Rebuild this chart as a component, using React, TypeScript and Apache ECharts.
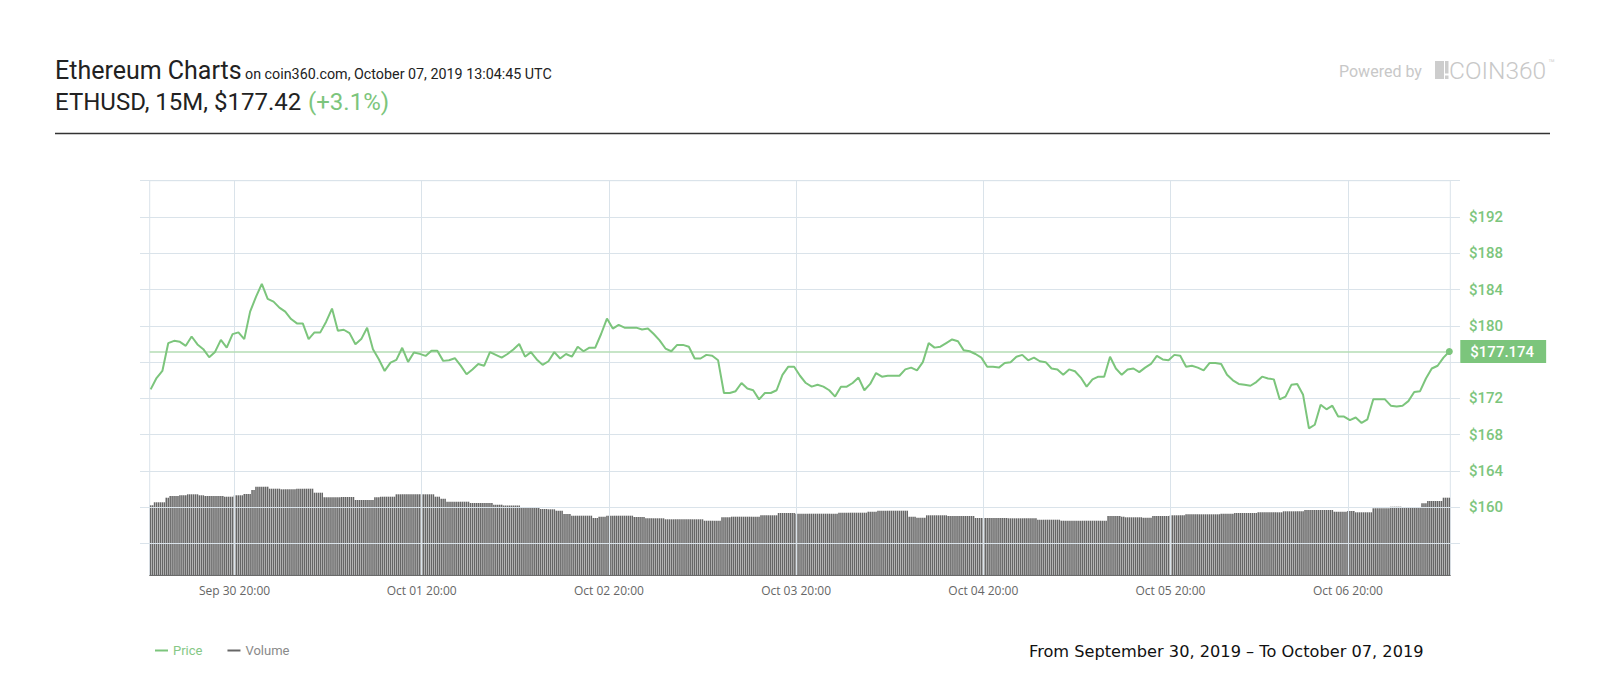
import React, { useEffect, useRef } from "react";
import * as echarts from "echarts";

// ---- x axis: 15-minute bars, labelled at these bar indices ----
const tickIndex = [43, 139, 235, 331, 427, 523, 614];
const tickLabels = [
  "Sep 30 20:00",
  "Oct 01 20:00",
  "Oct 02 20:00",
  "Oct 03 20:00",
  "Oct 04 20:00",
  "Oct 05 20:00",
  "Oct 06 20:00",
];

// ---- price (USD), one reading every `priceStep` bars ----
const priceStep = 3;
const priceSamples = [
  173.0, 174.25, 175.03, 178.09, 178.35, 178.24, 177.8, 178.83, 177.95, 177.43,
  176.54, 177.13, 178.46, 177.61, 179.09, 179.28, 178.54, 181.57, 183.19, 184.63,
  182.97, 182.67, 182.01, 181.57, 180.75, 180.27, 180.27, 178.54, 179.28, 179.28,
  180.46, 181.9, 179.46, 179.57, 179.2, 177.98, 178.54, 179.79, 177.43, 176.32,
  175.03, 175.95, 176.25, 177.58, 176.03, 177.06, 176.91, 176.69, 177.25, 177.25,
  176.14, 176.21, 176.43, 175.62, 174.66,
  175.2, 175.8, 175.6, 177.1, 176.8, 176.5, 176.9, 177.4, 178.0, 176.6,
  177.1, 176.3, 175.7, 176.1, 177.1, 176.4, 176.9, 176.6, 177.7, 177.2,
  177.6, 177.6, 179.1, 180.8, 179.7, 180.1, 179.8, 179.8, 179.8, 179.6,
  179.7, 179.1, 178.4, 177.5, 177.2, 177.9, 177.9, 177.7, 176.4, 176.4,
  176.8, 176.7, 176.2, 172.6, 172.6, 172.8, 173.7, 173.1, 172.9, 171.9,
  172.6, 172.6, 172.9, 174.6, 175.5, 175.5,
  174.5, 173.7, 173.3, 173.5, 173.3, 172.9, 172.2, 173.3, 173.3, 173.7,
  174.3, 172.9, 173.6, 174.8, 174.4, 174.5, 174.5, 174.5, 175.2, 175.4,
  175.1, 176.0, 178.1, 177.6, 177.7, 178.1, 178.5, 178.3, 177.3, 177.2,
  176.9, 176.5, 175.5, 175.5, 175.4, 175.9, 176.0, 176.6, 176.8, 176.2,
  176.5, 176.1, 176.0, 175.3, 175.2, 174.6, 175.2, 175.0, 174.3, 173.3,
  174.1, 174.4, 174.4, 176.6, 175.3,
  174.6, 175.2, 175.3, 174.9, 175.4, 175.8, 176.7, 176.3, 176.2, 176.8,
  176.7, 175.5, 175.6, 175.4, 175.1, 175.9, 175.9, 175.8, 174.6, 174.0,
  173.6, 173.5, 173.4, 173.8, 174.4, 174.2, 174.1, 171.9, 172.2, 173.5,
  173.6, 172.4, 168.7, 169.1, 171.3, 170.8, 171.2, 170.0, 170.0, 169.6,
  169.9, 169.3, 169.7, 171.9, 171.9, 171.9, 171.2, 171.1, 171.2, 171.7,
  172.7, 172.8, 174.2, 175.3, 175.6, 176.5, 177.174,
];
const lastPrice = 177.174;

// ---- volume (relative units), as runs of equal bars: [count, value] ----
const volumeRuns: [number, number][] = [
  [2, 69.7], [6, 72.7], [2, 77.3], [5, 79], [4, 79.7], [6, 80.7], [3, 79.7], [10, 79],
  [5, 78.3], [5, 79.7], [4, 81], [2, 85], [7, 88.3], [6, 86.3], [8, 85.7], [9, 86.3],
  [5, 82.3], [9, 77.7], [7, 78], [10, 75], [3, 77.7], [8, 78.3], [20, 80.7], [3, 78.3],
  [3, 76.3], [12, 73.3],
  [12, 72], [5, 70.3], [9, 69.5], [10, 67], [4, 66], [4, 65.7], [4, 64.3], [4, 61],
  [11, 59.3], [3, 57], [4, 58.3], [14, 59.3], [6, 58], [10, 56.7], [20, 55.7], [9, 54.3],
  [5, 57.7], [15, 58.3], [9, 59.7], [9, 62],
  [22, 61.3], [15, 62.3], [5, 63.3], [16, 64.3], [4, 58.3], [5, 57.3], [11, 59.7],
  [14, 59], [17, 57], [15, 56.7], [12, 55.3], [24, 54.3], [7, 59],
  [2, 58.3], [9, 57.7], [5, 57.3], [9, 59], [8, 59.7], [18, 60.7], [7, 61.3], [12, 62],
  [13, 62.7], [11, 63.7], [15, 65], [7, 63.3], [4, 64], [9, 62.7], [9, 66.7], [6, 68.3],
  [10, 68], [3, 71.7], [8, 74], [4, 77.3],
];

// ---- price axis ----
const priceAxisMin = 152;
const priceAxisMax = 196;
const priceAxisInterval = 4;
const labelledPrices = [160, 164, 168, 172, 180, 184, 188, 192];

const GREEN = "#7cc57c";
const GRID_COLOR = "#dae3ea";

export default function App() {
  const ref = useRef<HTMLDivElement>(null);

  useEffect(() => {
    document.body.style.margin = "0";
    const chart = echarts.init(ref.current!, null, { renderer: "svg" });

    const volume: number[] = [];
    volumeRuns.forEach(([n, v]) => {
      for (let j = 0; j < n; j++) volume.push(v);
    });
    const count = volume.length;
    const categories = volume.map((_, i) => String(i));
    const price: (number | null)[] = new Array(count).fill(null);
    priceSamples.forEach((v, k) => {
      price[k * priceStep] = v;
    });

    const lineCount = (priceAxisMax - priceAxisMin) / priceAxisInterval + 1;
    const splitColors = Array.from({ length: lineCount }, (_, i) =>
      i === 0 ? "rgba(0,0,0,0)" : GRID_COLOR
    );

    const top = 180.7;
    const plotBottom = 575;
    const pxPerUsd = 9.072;

    const option: any = {
      animation: false,
      backgroundColor: "#fff",
      grid: [
        {
          left: 140,
          right: 140,
          top,
          height: (priceAxisMax - priceAxisMin) * pxPerUsd,
        },
        {
          left: 149.7,
          width: 1300.6,
          top,
          height: plotBottom - top,
          show: true,
          borderColor: GRID_COLOR,
          borderWidth: 1,
        },
      ],
      xAxis: [
        { gridIndex: 0, type: "value", min: 0, max: 1, show: false },
        {
          gridIndex: 1,
          type: "category",
          data: categories,
          boundaryGap: true,
          axisLine: { show: true, lineStyle: { color: "#6a6a6a", width: 1 } },
          axisTick: { show: false },
          splitLine: { show: false },
          axisLabel: {
            interval: (index: number) => tickIndex.includes(index),
            formatter: (_v: string, index: number) => {
              const p = tickIndex.indexOf(index);
              return p >= 0 ? tickLabels[p] : "";
            },
            color: "#666",
            fontSize: 12,
            fontFamily: "Open Sans",
            margin: 9,
          },
        },
      ],
      yAxis: [
        {
          gridIndex: 0,
          type: "value",
          position: "right",
          min: priceAxisMin,
          max: priceAxisMax,
          interval: priceAxisInterval,
          z: 3,
          axisLine: { show: false },
          axisTick: { show: false },
          axisLabel: {
            margin: 9,
            color: GREEN,
            fontSize: 15,
            fontWeight: 500,
            fontFamily: "Roboto",
            formatter: (v: number) => (labelledPrices.includes(v) ? "$" + v : ""),
          },
          splitLine: { show: true, lineStyle: { color: splitColors, width: 1 } },
        },
        {
          gridIndex: 1,
          type: "value",
          min: 160 - (plotBottom - 507.3) / pxPerUsd,
          max: priceAxisMax,
          show: false,
        },
        {
          gridIndex: 1,
          type: "value",
          min: 0,
          max: plotBottom - top,
          show: false,
        },
      ],
      legend: {
        left: 150,
        top: 639,
        icon: "rect",
        itemWidth: 13,
        itemHeight: 2,
        itemGap: 25,
        selectedMode: false,
        textStyle: { fontSize: 13, fontFamily: "Roboto" },
        data: [
          { name: "Price", textStyle: { color: "#86c886" } },
          { name: "Volume", textStyle: { color: "#8a8a8a" } },
        ],
      },
      series: [
        {
          name: "Volume",
          type: "bar",
          xAxisIndex: 1,
          yAxisIndex: 2,
          data: volume,
          barCategoryGap: "22%",
          itemStyle: { color: "#666" },
          silent: true,
          z: 2,
          markLine: {
            silent: true,
            symbol: ["none", "none"],
            label: { show: false },
            lineStyle: { color: GRID_COLOR, width: 1, type: "solid" },
            data: tickIndex.map((i) => ({ xAxis: i })),
          },
        },
        {
          name: "Price",
          type: "line",
          xAxisIndex: 1,
          yAxisIndex: 1,
          data: price,
          connectNulls: true,
          showSymbol: false,
          silent: true,
          z: 5,
          lineStyle: { color: GREEN, width: 2 },
          itemStyle: { color: GREEN },
          markLine: {
            silent: true,
            symbol: ["none", "none"],
            lineStyle: { color: "#b4dcb4", width: 1.5, type: "solid" },
            label: {
              show: true,
              position: "end",
              distance: 10,
              formatter: "$" + lastPrice,
              color: "#fff",
              backgroundColor: GREEN,
              padding: [4, 12, 4, 10],
              fontSize: 15,
              lineHeight: 15,
              fontWeight: 500,
              fontFamily: "Roboto",
            },
            data: [{ yAxis: lastPrice }],
          },
          markPoint: {
            silent: true,
            symbol: "circle",
            symbolSize: 7,
            itemStyle: { color: GREEN },
            label: { show: false },
            data: [{ coord: [count - 1, lastPrice] }],
          },
        },
      ],
      graphic: [
        {
          type: "text",
          style: {
            text: "Ethereum Charts",
            x: 55,
            y: 70,
            font: "25px Roboto",
            fill: "#222",
            verticalAlign: "middle",
          },
        },
        {
          type: "text",
          style: {
            text: "on coin360.com, October 07, 2019 13:04:45 UTC",
            x: 245,
            y: 73.5,
            font: "14.3px Roboto",
            fill: "#222",
            verticalAlign: "middle",
          },
        },
        {
          type: "text",
          style: {
            text: "ETHUSD, 15M, $177.42",
            x: 55,
            y: 101.5,
            font: "24px Roboto",
            fill: "#222",
            verticalAlign: "middle",
          },
        },
        {
          type: "text",
          style: {
            text: "(+3.1%)",
            x: 308,
            y: 101.5,
            font: "24px Roboto",
            fill: GREEN,
            verticalAlign: "middle",
          },
        },
        {
          type: "text",
          style: {
            text: "Powered by",
            x: 1339,
            y: 71,
            font: "16px Roboto",
            fill: "#c8c8c8",
            verticalAlign: "middle",
          },
        },
        {
          type: "rect",
          shape: { x: 1435, y: 61, width: 9, height: 18 },
          style: { fill: "#cdcdcd" },
        },
        {
          type: "rect",
          shape: { x: 1445, y: 61, width: 3.5, height: 12.5 },
          style: { fill: "#cdcdcd" },
        },
        {
          type: "rect",
          shape: { x: 1445, y: 75.5, width: 3.5, height: 3.5 },
          style: { fill: "#cdcdcd" },
        },
        {
          type: "text",
          style: {
            text: "COIN360",
            x: 1449,
            y: 70.5,
            font: "300 24.5px Roboto",
            fill: "#c8c8c8",
            verticalAlign: "middle",
          },
        },
        {
          type: "text",
          style: {
            text: "™",
            x: 1548,
            y: 63,
            font: "300 11px Roboto",
            fill: "#c8c8c8",
            verticalAlign: "middle",
          },
        },
        {
          type: "line",
          shape: { x1: 55, y1: 133.5, x2: 1550, y2: 133.5 },
          style: { stroke: "#333", lineWidth: 1.5 },
        },
        {
          type: "text",
          style: {
            text: "From September 30, 2019 – To October 07, 2019",
            x: 1029,
            y: 651,
            font: "16.2px 'DejaVu Sans'",
            fill: "#111",
            verticalAlign: "middle",
          },
        },
      ],
    };

    chart.setOption(option);
    return () => chart.dispose();
  }, []);

  return <div ref={ref} style={{ width: 1600, height: 700 }} />;
}
